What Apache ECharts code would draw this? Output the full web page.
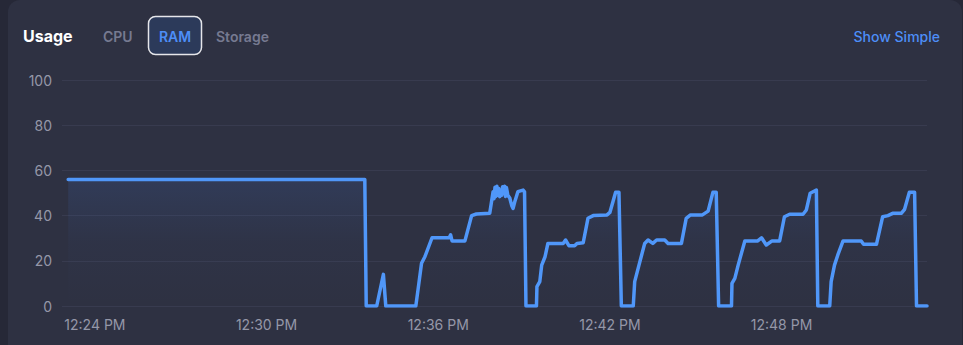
<!DOCTYPE html>
<html><head><meta charset="utf-8">
<script src="https://cdn.jsdelivr.net/npm/echarts@6/dist/echarts.min.js"></script>
<style>html,body{margin:0;padding:0;background:#262837;}#c{width:963px;height:345px;}</style>
</head><body><div id="c"></div>
<script>
// sample times (h:m:s, PM) and RAM usage (%)
const sampleTimes = [
 "12:23:04","12:33:26","12:33:29","12:33:51","12:34:05","12:34:10","12:35:13","12:35:18","12:35:25","12:35:32",
 "12:35:47","12:36:23","12:36:26","12:36:29","12:36:56","12:37:10","12:37:20","12:37:48","12:37:55","12:37:57",
 "12:37:59","12:38:01","12:38:03","12:38:05","12:38:07","12:38:09","12:38:11","12:38:13","12:38:15","12:38:17",
 "12:38:19","12:38:21","12:38:23","12:38:26","12:38:30","12:38:34","12:38:37","12:38:41","12:38:47","12:38:58",
 "12:39:01","12:39:04","12:39:26","12:39:27","12:39:33","12:39:37","12:39:44","12:39:50","12:40:22","12:40:27",
 "12:40:34","12:40:46","12:40:51","12:41:04","12:41:14","12:41:25","12:41:54","12:42:00","12:42:12","12:42:19",
 "12:42:24","12:42:49","12:42:52","12:43:01","12:43:13","12:43:20","12:43:30","12:43:38","12:43:55","12:44:02",
 "12:44:30","12:44:40","12:44:49","12:45:14","12:45:26","12:45:36","12:45:43","12:45:48","12:46:15","12:46:16",
 "12:46:22","12:46:29","12:46:43","12:47:10","12:47:18","12:47:28","12:47:40","12:47:56","12:48:06","12:48:17",
 "12:48:45","12:48:52","12:49:00","12:49:13","12:49:16","12:49:41","12:49:44","12:49:51","12:49:58","12:50:09",
 "12:50:47","12:50:52","12:51:19","12:51:32","12:51:43","12:51:53","12:52:11","12:52:18","12:52:28","12:52:39",
 "12:52:43","12:53:05"
];
const ramValues = [
 56,56,0,0,14,0,0,7.8,18.9,21.8,
 30.2,30.2,31.5,28.8,28.8,40,40.7,41,50.6,47.5,
 52.5,48.5,53,49,52,48.4,51,49,52.8,50,
 53,48.5,52.4,49,47.8,44.5,43.2,46.5,50.6,51.3,
 50.5,0,0,8.6,10.8,18.1,21.8,27.7,27.7,29.2,
 26.7,26.7,27.7,28,38.8,40,40.3,41.4,50.3,50.3,
 0,0,10.8,18.1,27.7,29.2,27.7,29.2,29.2,27.7,
 27.7,38.8,40.3,40.3,42,50.3,50.3,0,0,10,
 12.2,18.1,28.8,28.8,30.2,27,28.8,28.8,39.5,40.6,
 40.6,42.5,49.9,51.3,0,0,10.8,18.1,22.6,28.8,
 28.8,27.3,27.3,39.5,40,41,41,42.8,50.3,50.3,
 0,0
];
const xTickTimes = ["12:24:00","12:30:00","12:36:00","12:42:00","12:48:00"];
const axisStart = "12:22:51";
const axisEnd = "12:53:05";
const tabLabels = ["CPU","RAM","Storage"];
const titleText = "Usage";
const linkText = "Show Simple";

function ts(t){ return new Date("2024-01-01T" + t).getTime(); }
function fmt(v){
  const d = new Date(v); let h = d.getHours(); const m = d.getMinutes();
  const ap = h >= 12 ? "PM" : "AM"; h = h % 12 || 12;
  return h + ":" + String(m).padStart(2,"0") + " " + ap;
}
const seriesData = sampleTimes.map((t,i)=>[ts(t), ramValues[i]]);
const FONT = "Inter, 'Noto Sans', sans-serif";

const chart = echarts.init(document.getElementById('c'), null, {renderer:'svg'});
const tabX = [103, 175, 216];
chart.setOption({
  backgroundColor: 'transparent',
  animation: false,
  graphic: [
    {type:'rect', z:-10, shape:{x:8, y:0, width:954, height:360, r:12}, style:{fill:'#2e3142'}},
    {type:'text', x:23, y:36, style:{text:titleText, fill:'#ffffff', font:"700 16px "+FONT, verticalAlign:'middle'}},
    {type:'text', x:tabX[0], y:36, style:{text:tabLabels[0], fill:'#767a91', font:"600 14px "+FONT, verticalAlign:'middle'}},
    {type:'rect', shape:{x:148.5, y:16.5, width:53, height:38, r:7}, style:{fill:'#2c3a5a', stroke:'#e6e6ea', lineWidth:1.5}},
    {type:'text', x:tabX[1], y:36, style:{text:tabLabels[1], fill:'#4d8ef7', font:"600 14px "+FONT, align:'center', verticalAlign:'middle'}},
    {type:'text', x:tabX[2], y:36, style:{text:tabLabels[2], fill:'#767a91', font:"600 14px "+FONT, verticalAlign:'middle'}},
    {type:'text', x:940, y:36, style:{text:linkText, fill:'#4d8ef7', font:"500 14px "+FONT, align:'right', verticalAlign:'middle'}}
  ],
  grid: {left:62, right:36, top:80, bottom:39},
  xAxis: {
    type:'value', min: ts(axisStart), max: ts(axisEnd),
    axisLine:{show:false}, axisTick:{show:false}, splitLine:{show:false},
    axisLabel:{customValues: xTickTimes.map(ts), formatter: fmt, color:'#9597a8', fontSize:14, fontFamily:FONT, margin:11}
  },
  yAxis: {
    type:'value', min:0, max:100, interval:20,
    axisLine:{show:false}, axisTick:{show:false},
    splitLine:{lineStyle:{color:'#383b4f', width:1}},
    axisLabel:{color:'#9597a8', fontSize:14, fontFamily:FONT, margin:10}
  },
  series: [{
    type:'line', data: seriesData, showSymbol:false, symbol:'none',
    lineStyle:{color:'#5097f9', width:3.5, cap:'round', join:'round'},
    areaStyle:{color:new echarts.graphic.LinearGradient(0,0,0,1,[
      {offset:0, color:'rgba(70,130,240,0.18)'},
      {offset:0.5, color:'rgba(70,130,240,0.04)'},
      {offset:1, color:'rgba(70,130,240,0)'}
    ])}
  }]
});
</script></body></html>
